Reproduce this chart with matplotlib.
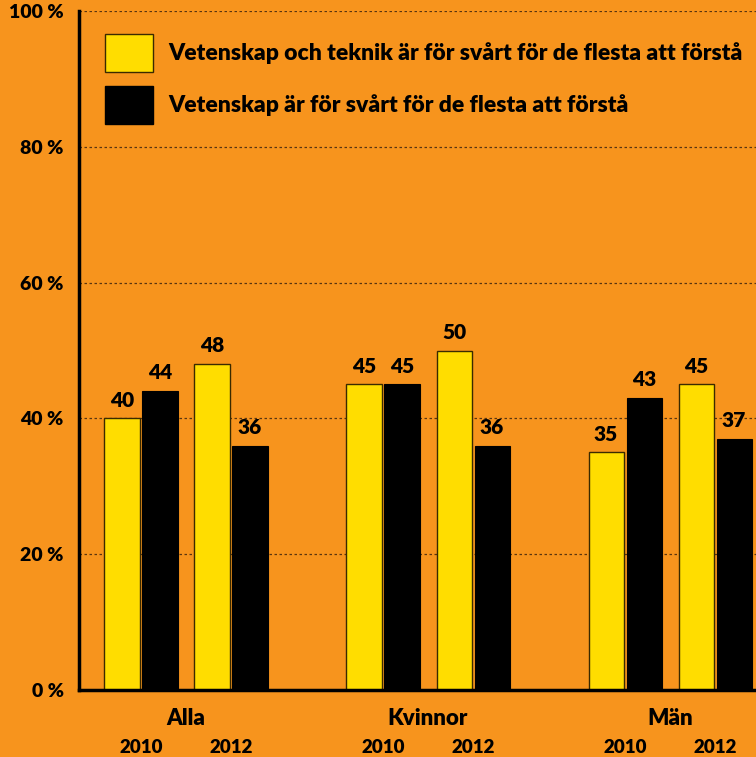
import matplotlib.pyplot as plt
import numpy as np

groups = ["Alla", "Kvinnor", "Män"]
years = ["2010", "2012"]
# value per group, per year: (yellow, black)
teknik = [[40, 48], [45, 50], [35, 45]]
vetenskap = [[44, 36], [45, 36], [43, 37]]
series_names = ["Vetenskap och teknik är för svårt för de flesta att förstå",
                "Vetenskap är för svårt för de flesta att förstå"]
yticks = [0, 20, 40, 60, 80, 100]

orange = "#F7941D"
yellow = "#FFDD00"
font = "Lato"
wt = "heavy"

fig = plt.figure(figsize=(7.56, 7.57), dpi=100, facecolor=orange)
ax = fig.add_axes([79/756, 67/757, 1 - 79/756, 679/757])
ax.set_facecolor(orange)

year_off = 0.186
bar_off = 0.0785
width = 0.145

for g in range(len(groups)):
    for y in range(len(years)):
        cx = g + (y - 0.5) * 2 * year_off
        ty = teknik[g][y]
        vy = vetenskap[g][y]
        ax.bar(cx - bar_off, ty, width, color=yellow, edgecolor="#3a2a00", linewidth=1.0)
        ax.bar(cx + bar_off, vy, width, color="black", edgecolor="black", linewidth=0.8)
        ax.text(cx - bar_off, ty + 1.3, str(ty), ha="center", va="bottom",
                fontsize=15, fontweight=wt, family=font)
        ax.text(cx + bar_off, vy + 1.3, str(vy), ha="center", va="bottom",
                fontsize=15, fontweight=wt, family=font)
        ax.text(cx, -8.4, years[y], ha="center", va="center", fontsize=13.5,
                fontweight=wt, family=font)
    ax.text(g, -4.2, groups[g], ha="center", va="center", fontsize=16,
            fontweight=wt, family=font)

ax.set_xlim(-0.442, 2.355)
ax.set_ylim(0, 100)
ax.set_yticks(yticks)
ax.set_yticklabels([f"{t} %" for t in yticks], fontsize=14, fontweight=wt, family=font)
ax.tick_params(axis="y", length=0, pad=11)
ax.set_xticks([])
for t in yticks[1:]:
    ax.axhline(t, color="#5a3510", linestyle=(0, (2, 2)), linewidth=0.9, zorder=0)
for s in ["top", "right"]:
    ax.spines[s].set_visible(False)
ax.spines["left"].set_linewidth(2.5)
ax.spines["bottom"].set_linewidth(2.5)

# legend
colors = [yellow, "black"]
for i, name in enumerate(series_names):
    top = 34 + i * 52
    fig.patches.append(plt.Rectangle((105/756, 1 - (top + 38)/757), 48/756, 38/757,
                                     transform=fig.transFigure, facecolor=colors[i],
                                     edgecolor="#3a2a00" if i == 0 else "black", linewidth=1.0))
    fig.text(168/756, 1 - (top + 19)/757, name, ha="left", va="center",
             fontsize=16.5, fontweight=wt, family=font)

fig.savefig("out.png", dpi=100, facecolor=orange)
